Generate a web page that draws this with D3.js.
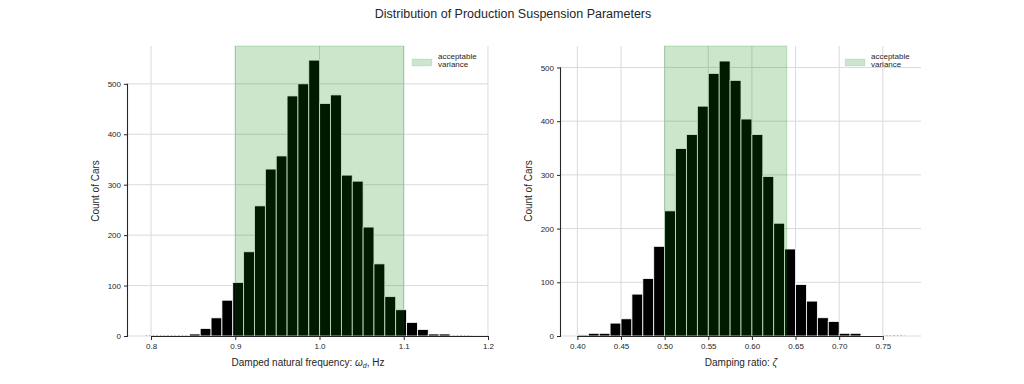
<!DOCTYPE html>
<html>
<head>
<meta charset="utf-8">
<script src="https://cdn.jsdelivr.net/npm/d3@7/dist/d3.min.js"></script>
<style>
  body { margin: 0; background: #fff; }
  text { font-family: "Liberation Sans", Arial, sans-serif; fill: #262626; }
</style>
</head>
<body>
<div id="chart"></div>
<script>
// histogram bins (30 bins each)
var freqBinStart = 0.79389, freqBinWidth = 0.012893;
var freqCounts = [0, 0, 0, 0, 4, 15, 36, 71, 106, 167, 258, 331, 357, 476, 500,
                  547, 461, 478, 319, 307, 216, 143, 78, 52, 27, 13, 4, 4, 0, 0];
var dampBinStart = 0.40, dampBinWidth = 0.0125;
var dampCounts = [2, 5, 5, 24, 32, 78, 107, 167, 233, 349, 375, 428, 489, 512, 476,
                  404, 375, 297, 210, 162, 96, 65, 34, 27, 5, 5, 1, 1, 0, 0];
var freqTicks = [0.8, 0.9, 1.0, 1.1, 1.2];
var dampTicks = [0.40, 0.45, 0.50, 0.55, 0.60, 0.65, 0.70, 0.75];
var countTicks = [0, 100, 200, 300, 400, 500];
var freqSpan = [0.9, 1.1];
var dampSpan = [0.5, 0.64];

var W = 1024, H = 384;
var svg = d3.select("#chart").append("svg")
    .attr("width", W)
    .attr("height", H);

svg.append("text")
    .attr("x", 513)
    .attr("y", 18)
    .attr("text-anchor", "middle")
    .attr("font-size", "12.5px")
    .text("Distribution of Production Suspension Parameters");

function histPanel(opts){
    var top = 46, bottom = 336;
    var bins = opts.counts.map(function(c, i){
        return { x0: opts.start + i * opts.width, x1: opts.start + (i + 1) * opts.width, n: c };
    });
    var lo = bins[0].x0, hi = bins[bins.length - 1].x1, pad = (hi - lo) * 0.05;

    var x = d3.scaleLinear().domain([lo - pad, hi + pad]).range([opts.left + opts.shift, opts.right]);
    var y = d3.scaleLinear().domain([0, opts.yMax]).range([bottom, top]);

    var g = svg.append("g");

    // grid
    g.selectAll(".vgrid").data(opts.xTicks).enter().append("line")
        .attr("x1", function(d){ return x(d); })
        .attr("x2", function(d){ return x(d); })
        .attr("y1", top).attr("y2", bottom)
        .attr("stroke", "#dadada").attr("stroke-width", 1);
    g.selectAll(".hgrid").data(countTicks).enter().append("line")
        .attr("x1", opts.left).attr("x2", opts.right)
        .attr("y1", function(d){ return y(d); })
        .attr("y2", function(d){ return y(d); })
        .attr("stroke", "#dadada").attr("stroke-width", 1);

    // empty bins show as a faint dotted baseline
    g.selectAll(".zero").data(bins.filter(function(b){ return b.n === 0; })).enter().append("line")
        .attr("x1", function(d){ return x(d.x0); })
        .attr("x2", function(d){ return x(d.x1); })
        .attr("y1", bottom - 0.5).attr("y2", bottom - 0.5)
        .attr("stroke", "#999").attr("stroke-width", 0.8)
        .attr("stroke-dasharray", "1,2.5");

    // bars
    g.selectAll(".bar").data(bins.filter(function(b){ return b.n > 0; })).enter().append("rect")
        .attr("x", function(d){ return x(d.x0); })
        .attr("y", function(d){ return y(d.n); })
        .attr("width", function(d){ return x(d.x1) - x(d.x0); })
        .attr("height", function(d){ return bottom - y(d.n); })
        .attr("fill", "#000")
        .attr("stroke", "#fff")
        .attr("stroke-width", 0.8);

    // acceptable band, drawn over the bars
    g.append("rect")
        .attr("x", x(opts.span[0]))
        .attr("y", top)
        .attr("width", x(opts.span[1]) - x(opts.span[0]))
        .attr("height", bottom - top)
        .attr("fill", "green").attr("fill-opacity", 0.2)
        .attr("stroke", "green").attr("stroke-opacity", 0.2).attr("stroke-width", 1);

    // axes, trimmed to the tick range
    var xAxis = g.append("g")
        .attr("transform", "translate(0," + bottom + ")")
        .call(d3.axisBottom(x).tickValues(opts.xTicks).tickFormat(d3.format(opts.fmt)).tickSize(4).tickPadding(3));
    xAxis.select(".domain").attr("d", "M" + x(opts.xTicks[0]) + ",0.5H" + x(opts.xTicks[opts.xTicks.length - 1]));

    var yAxis = g.append("g")
        .attr("transform", "translate(" + opts.left + ",0)")
        .call(d3.axisLeft(y).tickValues(countTicks).tickSize(4).tickPadding(3));
    yAxis.select(".domain").attr("d", "M-0.5," + y(500) + "V" + y(0));

    [xAxis, yAxis].forEach(function(a){
        a.select(".domain").attr("stroke", "#262626").attr("stroke-width", 1.1);
        a.selectAll(".tick line").attr("stroke", "#262626");
        a.selectAll(".tick text").attr("font-size", "8px").attr("fill", "#262626")
            .attr("font-family", "Liberation Sans, Arial, sans-serif");
    });

    // labels
    var xl = g.append("text")
        .attr("x", (opts.left + opts.right) / 2)
        .attr("y", 366)
        .attr("text-anchor", "middle")
        .attr("font-size", "10px");
    opts.xLabel(xl);

    g.append("text")
        .attr("transform", "translate(" + (opts.left - 29) + "," + ((top + bottom) / 2) + ") rotate(-90)")
        .attr("text-anchor", "middle")
        .attr("font-size", "10px")
        .text("Count of Cars");

    // legend
    var lg = g.append("g").attr("transform", "translate(" + (opts.right - 76) + ",59)");
    lg.append("rect")
        .attr("width", 20).attr("height", 7)
        .attr("fill", "green").attr("fill-opacity", 0.2)
        .attr("stroke", "green").attr("stroke-opacity", 0.2).attr("stroke-width", 0.5);
    lg.append("text").attr("x", 26).attr("y", 0).attr("font-size", "8px").text("acceptable");
    lg.append("text").attr("x", 26).attr("y", 8).attr("font-size", "8px").text("variance");
}

histPanel({
    left: 128, right: 488, shift: 1.6,
    start: freqBinStart, width: freqBinWidth, counts: freqCounts,
    yMax: 575, xTicks: freqTicks, fmt: ".1f", span: freqSpan,
    xLabel: function(t){
        t.append("tspan").text("Damped natural frequency: ");
        t.append("tspan").attr("font-style", "italic").text("ω");
        t.append("tspan").attr("font-style", "italic").attr("font-size", "7px").attr("dy", 2).text("d");
        t.append("tspan").attr("dy", -2).text(", Hz");
    }
});

histPanel({
    left: 561, right: 921, shift: 0,
    start: dampBinStart, width: dampBinWidth, counts: dampCounts,
    yMax: 540, xTicks: dampTicks, fmt: ".2f", span: dampSpan,
    xLabel: function(t){
        t.append("tspan").text("Damping ratio: ");
        t.append("tspan").attr("font-style", "italic").text("ζ");
    }
});
</script>
</body>
</html>
